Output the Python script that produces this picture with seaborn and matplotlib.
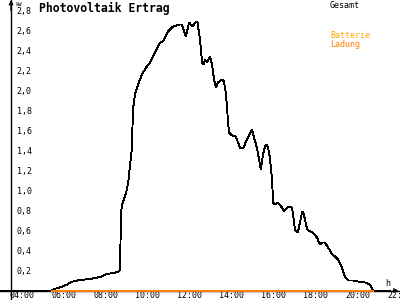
import matplotlib
matplotlib.use("Agg")
import matplotlib.pyplot as plt
import matplotlib.transforms as mtransforms
import seaborn as sns
import numpy as np

# ---- data (hours, kW) ----
gesamt_hours = [3.48, 5.95, 6.14, 6.33, 6.62, 6.95, 7.29, 7.76, 8.24, 8.57, 8.86, 9.10, 9.19,
                9.24, 9.29, 9.43, 9.52, 9.60, 9.67, 9.75, 9.81, 9.90, 10.05, 10.24, 10.43,
                10.62, 10.86, 11.00, 11.10, 11.24, 11.48, 11.71, 12.05, 12.14, 12.33, 12.48,
                12.62, 12.71, 12.81, 12.88, 13.00, 13.10, 13.17, 13.24, 13.33, 13.48, 13.57,
                13.67, 13.76, 13.86, 14.05, 14.14, 14.24, 14.29, 14.38, 14.52, 14.71, 14.81,
                14.90, 15.05, 15.24, 15.48, 15.57, 15.71, 15.81, 15.90, 16.00, 16.10, 16.19,
                16.24, 16.33, 16.43, 16.48, 16.57, 16.71, 16.90, 17.00, 17.19, 17.38, 17.43,
                17.52, 17.62, 17.67, 17.76, 17.86, 17.90, 18.00, 18.10, 18.24, 18.38, 18.57,
                18.71, 18.81, 18.95, 19.10, 19.29, 19.43, 19.57, 19.76, 19.90, 20.05, 20.29,
                20.52, 20.86, 21.10, 21.24, 22.05]
gesamt_kw = [0.00, 0.00, 0.02, 0.03, 0.055, 0.09, 0.105, 0.115, 0.135, 0.165, 0.175, 0.185, 0.205,
             0.78, 0.86, 0.94, 1.01, 1.11, 1.26, 1.41, 1.81, 1.96, 2.06, 2.16, 2.23,
             2.28, 2.38, 2.44, 2.48, 2.49, 2.59, 2.64, 2.66, 2.66, 2.54, 2.68,
             2.64, 2.66, 2.69, 2.68, 2.51, 2.28, 2.26, 2.31, 2.28, 2.34, 2.26,
             2.11, 2.03, 2.08, 2.11, 2.09, 1.96, 1.81, 1.58, 1.55, 1.54, 1.48,
             1.43, 1.42, 1.51, 1.61, 1.53, 1.43, 1.31, 1.21, 1.36, 1.44, 1.46,
             1.43, 1.33, 1.11, 0.88, 0.86, 0.88, 0.83, 0.79, 0.84, 0.83, 0.76,
             0.61, 0.58, 0.59, 0.68, 0.78, 0.79, 0.71, 0.61, 0.59, 0.58, 0.53,
             0.46, 0.48, 0.48, 0.43, 0.36, 0.34, 0.31, 0.23, 0.14, 0.10, 0.10,
             0.09, 0.08, 0.055, 0.00, 0.00]
ladung_hours = [5.95, 21.24]
ladung_kw = [0.0, 0.0]

x_ticks = [4, 6, 8, 10, 12, 14, 16, 18, 20, 22]
x_labels = ["04:00", "06:00", "08:00", "10:00", "12:00", "14:00", "16:00", "18:00", "20:00", "22:00"]
y_ticks = [0.2, 0.4, 0.6, 0.8, 1.0, 1.2, 1.4, 1.6, 1.8, 2.0, 2.2, 2.4, 2.6, 2.8]
y_labels = ["0,2", "0,4", "0,6", "0,8", "1,0", "1,2", "1,4", "1,6", "1,8", "2,0", "2,2", "2,4", "2,6", "2,8"]

title = "Photovoltaik Ertrag"
legend_items = [("Gesamt", "#000000"), ("Batterie", "#FFA500"), ("Ladung", "#FF8000")]

# ---- style ----
sns.set_style("white")
plt.rcParams["font.family"] = ["DejaVu Sans Mono", "DejaVu Sans"]

fig = plt.figure(figsize=(4, 3), dpi=100)
ax = fig.add_axes([0, 0, 1, 1])

sns.lineplot(x=gesamt_hours, y=gesamt_kw, ax=ax, color="black", lw=0.65,
             estimator=None, sort=False, antialiased=False)
sns.lineplot(x=ladung_hours, y=ladung_kw, ax=ax, color="#FF8000", lw=1.4,
             estimator=None, sort=False, antialiased=False)

ax.set_xlim(3.476, 22.524)
ax.set_ylim(-0.095, 2.905)

for s in ["top", "right"]:
    ax.spines[s].set_visible(False)
ax.spines["left"].set_position(("data", 4.0))
ax.spines["bottom"].set_position(("data", 0.0))
for s in ["left", "bottom"]:
    ax.spines[s].set_color("black")
    ax.spines[s].set_linewidth(1.0)
    ax.spines[s].set_zorder(1)

ax.set_xticks(x_ticks)
ax.set_xticklabels(x_labels)
ax.set_yticks(y_ticks)
ax.set_yticklabels(y_labels)
ax.tick_params(axis="both", direction="inout", length=6, width=1, color="black",
               labelsize=6, labelcolor="black")
ax.tick_params(axis="x", pad=-2.5)
ax.tick_params(axis="y", pad=-7)
for lab in ax.get_yticklabels():
    lab.set_horizontalalignment("left")
shift = mtransforms.ScaledTranslation(-2 / 100, 0, fig.dpi_scale_trans)
for lab in ax.get_xticklabels():
    lab.set_horizontalalignment("left")
    lab.set_transform(lab.get_transform() + shift)

# axis arrows
ax.annotate("", xy=(4.0, 2.905), xytext=(4.0, 2.80),
            arrowprops=dict(arrowstyle="->", lw=1.0, color="black", mutation_scale=6,
                            shrinkA=0, shrinkB=0))
ax.annotate("", xy=(22.45, 0.0), xytext=(22.2, 0.0),
            arrowprops=dict(arrowstyle="->", lw=1.0, color="black", mutation_scale=6,
                            shrinkA=0, shrinkB=0))

# texts
fig.text(39 / 400, 1 - 8 / 300, title, fontsize=8.3, fontweight="bold", va="center", ha="left",
         color="black")
fig.text(15 / 400, 1 - 4 / 300, "kW", fontsize=4, va="center", ha="left", color="black")
fig.text(385 / 400, 1 - 283 / 300, "h", fontsize=6, va="center", ha="left", color="black")
legend_y = [5, 36, 44]
for (txt, col), yy in zip(legend_items, legend_y):
    fig.text(330 / 400, 1 - yy / 300, txt, fontsize=6, va="center", ha="left", color=col)

fig.savefig("out.png", dpi=100)
